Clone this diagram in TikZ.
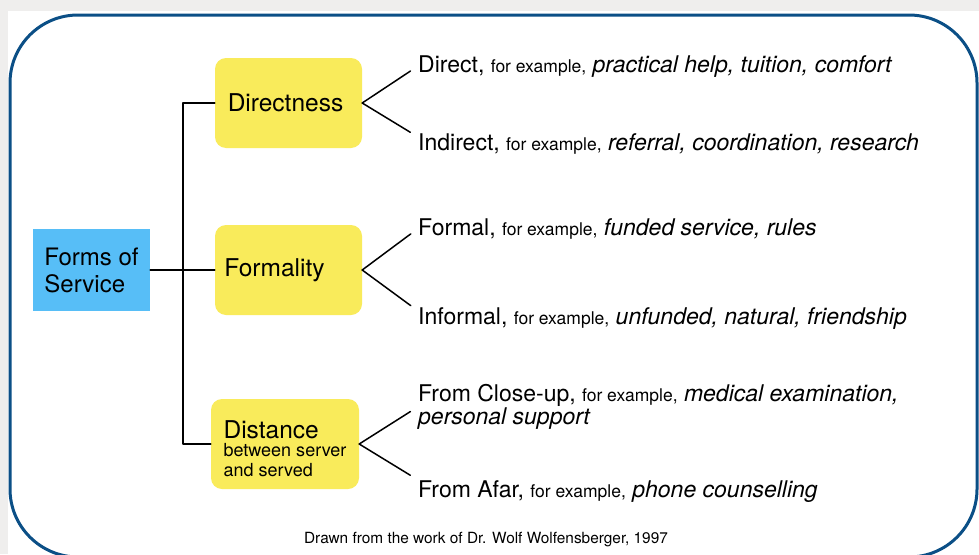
\documentclass[tikz,border=0pt]{standalone}
\usepackage{fontspec}
\setmainfont{TeX Gyre Heros}
\usetikzlibrary{positioning}

\definecolor{frameblue}{HTML}{0B4F86}
\definecolor{formsblue}{HTML}{57BEF7}
\definecolor{boxyellow}{HTML}{F9EB5B}
\definecolor{pagegray}{HTML}{EFEEED}

% small "for example," between the kind and its examples
\newcommand{\forex}{{\fontsize{17.5}{20}\selectfont for example,}}

\begin{document}
\begin{tikzpicture}[
  x=1pt, y=-1pt,
  font=\fontsize{23}{27}\selectfont,
  formsbox/.style={
    rectangle, fill=formsblue,
    minimum width=117pt, minimum height=82pt,
    inner sep=0pt, align=left,
    font=\fontsize{24}{27}\selectfont
  },
  aspect/.style={
    rectangle, rounded corners=11pt,
    fill=boxyellow,
    minimum width=147pt, minimum height=90pt,
    inner sep=0pt,
    font=\fontsize{24.5}{28}\selectfont
  },
  example/.style={anchor=base west, inner sep=0pt, align=left},
  link/.style={line width=1.5pt, line cap=round, line join=round}
]

% page and frame
\useasboundingbox (0,0) rectangle (979,554);
\fill[pagegray] (0,0) rectangle (979,554);
\fill[white] (8,11) rectangle (979,554);
\draw[frameblue, line width=3pt, rounded corners=68pt] (10,15) rectangle (977,557);

% root and the three aspects
\node[formsbox] (forms) at (91.5,270) {Forms of\\Service};
\node[aspect] (direct) at (288.5,103) {\hspace*{-6pt}Directness};
\node[aspect] (formal) at (288.5,270) {\hspace*{-28pt}Formality};
\node[aspect, minimum width=148pt, align=left] (dist) at (285,444)
  {\rule{0pt}{27pt}Distance\\[-10pt]{\fontsize{18}{20}\selectfont between server}\\[-8pt]{\fontsize{18}{20}\selectfont and served}};

% examples on the right
\node[example] (directEx) at (418,72) {Direct, \forex{} \textit{practical help, tuition, comfort}};
\node[example] (indirectEx) at (418,150) {Indirect, \forex{} \textit{referral, coordination, research}};
\node[example] (formalEx) at (418,235) {Formal, \forex{} \textit{funded service, rules}};
\node[example] (informalEx) at (418,324) {Informal, \forex{} \textit{unfunded, natural, friendship}};
\node[example, anchor=north west] (closeEx) at (418,384)
  {From Close-up, \forex{} \textit{medical examination,}\\[-4pt]\textit{personal support}};
\node[example] (afarEx) at (418,497) {From Afar, \forex{} \textit{phone counselling}};

\node[inner sep=0pt, anchor=base, font=\fontsize{15.4}{18}\selectfont] (credit) at (486,543)
  {Drawn from the work of Dr. Wolf Wolfensberger, 1997};

% tree
\draw[link] (forms.east) -- (formal.west);
\draw[link] (direct.west) -- ++(-32,0) |- (dist.west);

% forks
\draw[link, shorten >=9pt] (direct.east) -- (directEx.west);
\draw[link, shorten >=9pt] (direct.east) -- ([yshift=-4pt]indirectEx.north west);
\draw[link, shorten >=9pt] (formal.east) -- (formalEx.west);
\draw[link, shorten >=9pt] (formal.east) -- ([yshift=-4pt]informalEx.north west);
\draw[link, shorten >=9pt] (dist.east) -- (closeEx.west);
\draw[link, shorten >=9pt] (dist.east) -- (afarEx.north west);

\end{tikzpicture}
\end{document}
